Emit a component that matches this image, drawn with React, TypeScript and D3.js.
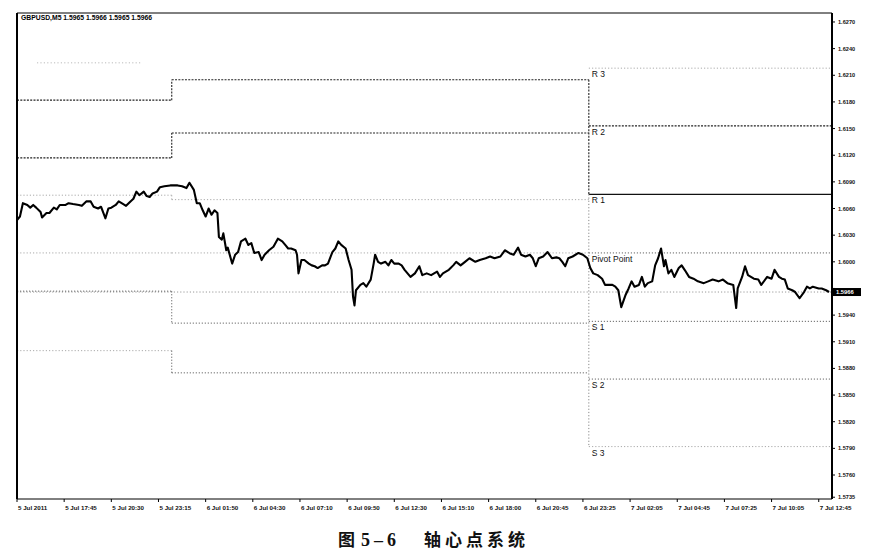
import React from 'react';
import * as d3 from 'd3';

// GBPUSD M5 closes (bar index from the left edge)
const priceBar = [
  0, 2, 4, 7, 9, 11, 13, 16, 17, 20, 22, 25, 27, 29, 33, 35, 38, 42, 44, 47,
  50, 52, 55, 57, 60, 62, 64, 67, 69, 71, 74, 77, 79, 81, 83, 86, 88, 90, 92, 95,
  97, 100, 104, 107, 109, 112, 115, 117, 120, 122, 124, 126, 128, 130, 132, 134, 136, 137, 139, 140,
  142, 143, 146, 148, 150, 152, 155, 157, 159, 161, 164, 166, 168, 171, 174, 177, 180, 182, 184, 186,
  189, 190, 191, 193, 195, 198, 200, 202, 204, 207, 209, 211, 214, 216, 218, 220, 223, 225, 227, 228,
  229, 230, 233, 235, 237, 240, 242, 243, 245, 247, 250, 252, 254, 256, 259, 261, 263, 267, 270, 273,
  275, 278, 281, 285, 287, 289, 293, 296, 298, 301, 304, 307, 311, 314, 318, 321, 324, 328, 331, 335,
  337, 340, 342, 345, 348, 350, 352, 354, 357, 360, 363, 366, 368, 370, 372, 374, 377, 381, 384, 387,
  389, 391, 394, 397, 399, 401, 404, 406, 408, 410, 413, 415, 417, 419, 422, 424, 426, 428, 431, 433,
  435, 437, 439, 440, 442, 444, 446, 449, 451, 453, 456, 459, 462, 466, 469, 472, 476, 479, 482, 486,
  488, 489, 492, 494, 496, 500, 503, 505, 509, 512, 514, 517, 519, 521, 523, 526, 528, 531, 534, 536,
  538, 540, 544, 546, 549, 551,
];
const priceClose = [
  1.6047, 1.6051, 1.6066, 1.6064, 1.6061, 1.6064, 1.6061, 1.6056, 1.6050, 1.6055, 1.6055, 1.6061, 1.6059, 1.6064, 1.6064, 1.6066, 1.6065, 1.6064, 1.6063, 1.6068,
  1.6068, 1.6062, 1.6060, 1.6062, 1.6049, 1.6060, 1.6061, 1.6064, 1.6068, 1.6066, 1.6063, 1.6068, 1.6071, 1.6079, 1.6075, 1.6079, 1.6074, 1.6073, 1.6077, 1.6079,
  1.6084, 1.6085, 1.6086, 1.6086, 1.6086, 1.6085, 1.6083, 1.6089, 1.6081, 1.6066, 1.6066, 1.6058, 1.6051, 1.6060, 1.6053, 1.6058, 1.6055, 1.6028, 1.6025, 1.6032,
  1.6013, 1.6016, 1.5998, 1.6008, 1.6011, 1.6023, 1.6026, 1.6019, 1.6021, 1.6010, 1.6011, 1.6002, 1.6008, 1.6013, 1.6017, 1.6026, 1.6023, 1.6019, 1.6015, 1.6015,
  1.6013, 1.6008, 1.5987, 1.6002, 1.6002, 1.5998, 1.5996, 1.5995, 1.5993, 1.5996, 1.5996, 1.5998, 1.6011, 1.6015, 1.6023, 1.6019, 1.6015, 1.6002, 1.5991, 1.5961,
  1.5951, 1.5968, 1.5974, 1.5976, 1.5972, 1.5980, 1.5998, 1.6008, 1.6000, 1.5998, 1.6000, 1.5996, 1.6002, 1.5998, 1.5998, 1.5996, 1.5991, 1.5983, 1.5987, 1.5995,
  1.5985, 1.5987, 1.5985, 1.5989, 1.5983, 1.5987, 1.5991, 1.5996, 1.6000, 1.5996, 1.6000, 1.6004, 1.6000, 1.6002, 1.6004, 1.6006, 1.6004, 1.6006, 1.6013, 1.6009,
  1.6008, 1.6016, 1.6008, 1.6006, 1.6008, 1.6004, 1.5995, 1.6004, 1.6006, 1.6011, 1.6004, 1.6005, 1.6004, 1.6000, 1.5995, 1.6004, 1.6006, 1.6010, 1.6008, 1.6004,
  1.5993, 1.5987, 1.5985, 1.5981, 1.5974, 1.5974, 1.5974, 1.5972, 1.5968, 1.5949, 1.5963, 1.5970, 1.5978, 1.5972, 1.5974, 1.5983, 1.5972, 1.5976, 1.5978, 1.5996,
  1.6004, 1.6015, 1.5995, 1.6002, 1.5987, 1.5991, 1.5983, 1.5993, 1.5996, 1.5991, 1.5983, 1.5981, 1.5978, 1.5976, 1.5978, 1.5980, 1.5978, 1.5980, 1.5976, 1.5974,
  1.5948, 1.5970, 1.5983, 1.5995, 1.5985, 1.5981, 1.5980, 1.5974, 1.5983, 1.5981, 1.5991, 1.5983, 1.5981, 1.5980, 1.5970, 1.5968, 1.5966, 1.5959, 1.5966, 1.5972,
  1.5970, 1.5972, 1.5970, 1.5970, 1.5968, 1.5966,
];

// daily pivot levels: R3, R2, R1, Pivot, S1, S2, S3 (null = not shown)
const dayStart = [0, 105, 388];
const dayEnd = [105, 388, 553];
const day5Levels = [1.6182, 1.6117, 1.6075, 1.6010, 1.5967, 1.5900, null];
const day6Levels = [1.6205, 1.6145, 1.6070, 1.6010, 1.5931, 1.5875, null];
const day7Levels = [1.6218, 1.6153, 1.6076, 1.6010, 1.5933, 1.5868, 1.5792];
const day5Extra = 1.6224;
const levelLabels = ['R 3', 'R 2', 'R 1', 'Pivot Point', 'S 1', 'S 2', 'S 3'];

const bid = 1.5966;
const header = 'GBPUSD,M5  1.5965 1.5966 1.5965 1.5966';

const yTicks = [
  1.627, 1.624, 1.621, 1.618, 1.615, 1.612, 1.609, 1.606, 1.603, 1.600,
  1.597, 1.594, 1.591, 1.588, 1.585, 1.582, 1.579, 1.576, 1.5735,
];
const xTickLabels = [
  '5 Jul 2011', '5 Jul 17:45', '5 Jul 20:30', '5 Jul 23:15', '6 Jul 01:50', '6 Jul 04:30',
  '6 Jul 07:10', '6 Jul 09:50', '6 Jul 12:30', '6 Jul 15:10', '6 Jul 18:00', '6 Jul 20:45',
  '6 Jul 23:25', '7 Jul 02:05', '7 Jul 04:45', '7 Jul 07:25', '7 Jul 10:05', '7 Jul 12:45',
];
const barsPerLabel = 32;

const W = 875;
const H = 552;
const left = 17;
const right = 832;
const top = 13;
const bottom = 499;

const styles: Record<string, { stroke: string; dash: string; width: number }> = {
  dot: { stroke: '#aaa', dash: '1.2,2', width: 1 },
  dotMid: { stroke: '#666', dash: '1.2,1.8', width: 1 },
  dash: { stroke: '#222', dash: '2,1.3', width: 1.1 },
  solid: { stroke: '#111', dash: '', width: 1.3 },
};
const dayStyles = [
  ['dash', 'dash', 'dot', 'dot', 'dotMid', 'dot', 'dot'],
  ['dash', 'dash', 'dot', 'dot', 'dotMid', 'dotMid', 'dot'],
  ['dot', 'dash', 'solid', 'dotMid', 'dotMid', 'dotMid', 'dot'],
];

const axisFont = 'Liberation Sans, Arial, sans-serif';
const cjkFont = "'Noto Sans CJK SC', sans-serif";

export default function App() {
  const x = d3.scaleLinear().domain([0, 553]).range([left, right]);
  const y = d3.scaleLinear().domain([1.5733, 1.62801]).range([bottom, top]);

  const line = d3
    .line<number>()
    .x((_, i) => x(priceBar[i]))
    .y((d) => y(d));

  const days = [day5Levels, day6Levels, day7Levels];

  const segs: React.ReactNode[] = [];
  days.forEach((levels, di) => {
    levels.forEach((v, li) => {
      if (v == null) return;
      const s = styles[dayStyles[di][li]];
      segs.push(
        <line key={`h${di}-${li}`} x1={x(dayStart[di])} x2={x(dayEnd[di])} y1={y(v)} y2={y(v)}
          stroke={s.stroke} strokeDasharray={s.dash} strokeWidth={s.width} />
      );
    });
  });
  // step connectors from day 5 to day 6
  day5Levels.forEach((v, li) => {
    const n = day6Levels[li];
    if (v == null || n == null) return;
    const s = styles[dayStyles[1][li]];
    segs.push(
      <line key={`c${li}`} x1={x(dayStart[1])} x2={x(dayStart[1])} y1={y(v)} y2={y(n)}
        stroke={s.stroke} strokeDasharray={s.dash} strokeWidth={s.width} />
    );
  });

  const todayX = x(dayStart[2]);
  // the bid label hides the tick label under it
  const shownTicks = yTicks.filter((t) => Math.abs(y(t) - y(bid)) > 7);

  return (
    <svg width={W} height={H} style={{ position: 'absolute', left: 0, top: 0, background: '#fff' }}>
      {/* day 5 stray upper level */}
      <line x1={x(dayStart[0]) + 20} x2={x(dayEnd[0]) - 30} y1={y(day5Extra)} y2={y(day5Extra)}
        stroke="#bbb" strokeDasharray="1.2,2.2" />
      {/* bid line */}
      <line x1={left} x2={right} y1={y(bid)} y2={y(bid)} stroke="#999" strokeDasharray="1.2,2" />
      {segs}
      {/* today's separator */}
      <line x1={todayX} x2={todayX} y1={y(day6Levels[0] as number)} y2={y(day7Levels[2] as number)}
        stroke="#222" strokeDasharray="2,1.3" strokeWidth={1.1} />
      <line x1={todayX} x2={todayX} y1={y(day7Levels[2] as number)} y2={y(day7Levels[6] as number)}
        stroke="#888" strokeDasharray="1.2,2" />
      {day7Levels.map((v, i) =>
        v == null ? null : (
          <text key={`l${i}`} x={todayX + 3} y={y(v) + 9} fontSize={8.5}
            fontFamily={axisFont} fill="#111">{levelLabels[i]}</text>
        )
      )}

      {/* price */}
      <path d={line(priceClose) || ''} fill="none" stroke="#000" strokeWidth={2.1} strokeLinejoin="round" />

      {/* frame */}
      <line x1={left} x2={right} y1={top} y2={top} stroke="#000" strokeWidth={1} />
      <line x1={left} x2={right} y1={bottom} y2={bottom} stroke="#000" strokeWidth={1} />
      <line x1={left} x2={left} y1={top} y2={bottom} stroke="#000" strokeWidth={2} />
      <line x1={right} x2={right} y1={top} y2={bottom} stroke="#000" strokeWidth={2} />

      <text x={21} y={20} fontSize={6.8} fontWeight="bold" fontFamily={axisFont} fill="#000">{header}</text>

      {/* y axis */}
      {yTicks.map((t) => (
        <line key={`t${t}`} x1={right} x2={right + 3} y1={y(t)} y2={y(t)} stroke="#000" />
      ))}
      {shownTicks.map((t) => (
        <text key={t} x={right + 6} y={y(t) + 2} fontSize={5.6} fontWeight="bold" fontFamily={axisFont} fill="#111">
          {t.toFixed(4)}
        </text>
      ))}
      <rect x={right + 1} y={y(bid) - 4} width={28} height={8} fill="#000" />
      <text x={right + 4} y={y(bid) + 2.2} fontSize={5.8} fontWeight="bold" fontFamily={axisFont} fill="#fff">
        {bid.toFixed(4)}
      </text>

      {/* x axis */}
      {xTickLabels.map((lab, i) => {
        const px = x(i * barsPerLabel);
        return (
          <g key={lab}>
            <line x1={px} x2={px} y1={bottom} y2={bottom + 3} stroke="#000" />
            <text x={px + 1} y={bottom + 11} fontSize={6.2} fontWeight="bold" fontFamily={axisFont} fill="#111">
              {lab}
            </text>
          </g>
        );
      })}

      {/* caption */}
      <text x={338} y={546} fontSize={17} fontWeight="bold" fontFamily={cjkFont} fill="#111">图</text>
      <text x={361} y={546} fontSize={18} fontWeight="bold" letterSpacing={4}
        fontFamily="'Liberation Serif', serif" fill="#111">5–6</text>
      <text x={424} y={546} fontSize={17} fontWeight="bold" letterSpacing={4}
        fontFamily={cjkFont} fill="#111">轴心点系统</text>
    </svg>
  );
}
